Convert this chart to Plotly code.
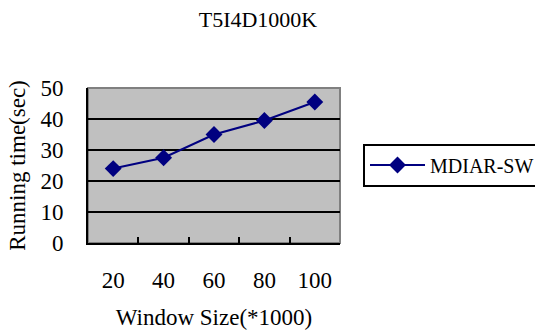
import plotly.graph_objects as go

categories = ["20", "40", "60", "80", "100"]
running_time = [24, 27.5, 35, 39.5, 45.5]
series_name = "MDIAR-SW"
y_ticks = [0, 10, 20, 30, 40, 50]

FONT = "Liberation Serif, Times New Roman, serif"

fig = go.Figure()
fig.add_trace(go.Scatter(
    x=categories, y=running_time, name=series_name, mode="lines+markers",
    line=dict(color="#000080", width=2),
    marker=dict(symbol="diamond", size=13, color="#000080"),
))

L, R, T, B = 88, 340, 88, 243
W, H = 535, 330
fig.update_layout(
    width=W, height=H,
    margin=dict(l=L, r=W - R, t=T, b=H - B, autoexpand=False),
    paper_bgcolor="white", plot_bgcolor="#C0C0C0",
    font=dict(family=FONT, size=23, color="black"),
    title=dict(text="T5I4D1000K", x=258 / W, xanchor="center", y=1 - 19 / H, yanchor="middle",
               font=dict(family=FONT, size=22)),
    showlegend=True,
    legend=dict(x=(363 - L) / (R - L), xanchor="left", y=(B - 165) / (B - T), yanchor="middle",
                bordercolor="black", borderwidth=2, bgcolor="white",
                font=dict(family=FONT, size=20), itemwidth=55),
    xaxis=dict(type="category", range=[-0.5, 4.5], showline=True, linecolor="black", linewidth=2,
               ticks="inside", tickson="boundaries", ticklen=6, tickwidth=2, tickcolor="black",
               showgrid=False, ticklabelstandoff=15, automargin=False,
               title=dict(text="Window Size(*1000)", standoff=19, font=dict(family=FONT, size=23))),
    yaxis=dict(range=[0, 50], tickvals=y_ticks, showline=True, linecolor="black", linewidth=2,
               showgrid=True, gridcolor="black", gridwidth=1.5, zeroline=False, ticks="",
               ticklabelstandoff=18, automargin=False,
               title=dict(text="Running time(sec)", standoff=8, font=dict(family=FONT, size=23))),
    shapes=[dict(type="rect", xref="paper", yref="paper", x0=0, x1=1, y0=0, y1=1,
                 line=dict(color="#808080", width=2), layer="below")],
)

fig.write_html("out.html", config={"displayModeBar": False},
               post_script="document.body.style.margin='0';document.body.style.overflow='hidden';")
